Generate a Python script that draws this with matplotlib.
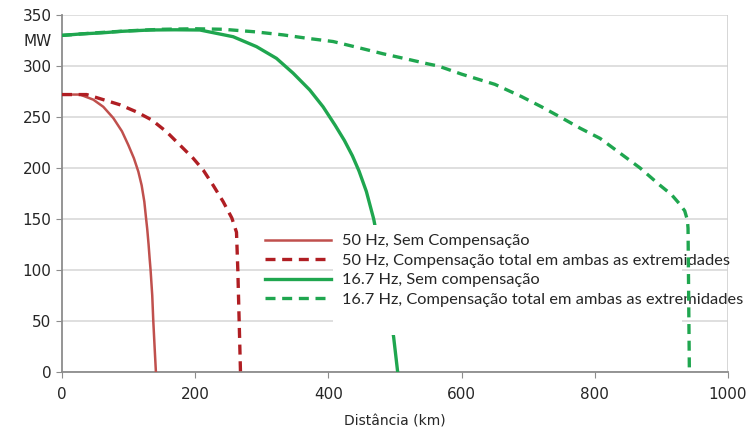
import numpy as np
import matplotlib.pyplot as plt
from matplotlib.patches import Rectangle

# Distance (km) and transmitted power (MW) for each case
km_50_sem = [0, 27, 47, 62, 77, 90, 99.6, 108, 114.6, 119.6, 123.6, 126, 128, 130,
             131.5, 133, 135.5, 137, 139, 141]
mw_50_sem = [272, 272, 267, 260, 249, 236, 222.5, 209.5, 196.5, 183, 167, 152, 140, 125,
             112, 100, 75, 51, 25, 0]

km_50_comp = [0, 37, 62, 87, 112, 135, 157, 177, 197, 212, 227, 242, 255, 262, 264, 266, 268]
mw_50_comp = [272, 272, 267, 262, 255, 247, 235.5, 222.5, 209.5, 198, 183, 167, 151, 137,
              100, 50, 0]

km_16_sem = [0, 30, 60, 90, 132, 170, 207, 257, 292, 322, 347, 372, 392, 410, 424, 436,
             446, 457, 468, 480, 490, 498, 501, 504]
mw_16_sem = [330, 331.5, 332.5, 334, 335.3, 335.5, 335.3, 328.7, 319, 307.5, 293, 276.5,
             260, 242, 227, 212, 197, 177, 150, 110, 70, 34, 17, 0]

km_16_comp = [0, 50, 100, 150, 200, 242, 290, 332, 370, 407, 445, 482, 520, 550, 565, 600,
              650, 690, 720, 748, 778, 808, 838, 868, 898, 915, 927, 935, 939, 940, 941, 942]
mw_16_comp = [330, 332.5, 334.5, 336, 336.5, 336, 333.5, 330.5, 327, 324, 318, 312, 306.5,
              302, 300, 292, 282, 270, 260, 250, 239, 229, 214.5, 200, 183, 174, 165, 158,
              149, 141, 70, 0]

labels = ['50 Hz, Sem Compensação',
          '50 Hz, Compensação total em ambas as extremidades',
          '16.7 Hz, Sem compensação',
          '16.7 Hz, Compensação total em ambas as extremidades']

red_solid = '#C0504D'
red_dash = '#B01E23'
green = '#1FA64F'

fig = plt.figure(figsize=(7.48, 4.30), dpi=100)
ax = fig.add_axes([62 / 748, 1 - 372 / 430, 666 / 748, 357 / 430])

l1, = ax.plot(km_50_sem, mw_50_sem, color=red_solid, lw=1.8, zorder=3)
l2, = ax.plot(km_50_comp, mw_50_comp, color=red_dash, lw=2.4, ls=(0, (3, 2)), zorder=3)
l3, = ax.plot(km_16_sem, mw_16_sem, color=green, lw=2.4, zorder=3)
l4, = ax.plot(km_16_comp, mw_16_comp, color=green, lw=2.4, ls=(0, (3, 2)), zorder=6)

ax.set_xlim(0, 1000)
ax.set_ylim(0, 350)
ax.set_xticks(np.arange(0, 1001, 200))
ax.set_yticks(np.arange(0, 351, 50))
ax.yaxis.grid(True, color='#D9D9D9', lw=1.2)
ax.set_axisbelow(True)

for s in ['top', 'right']:
    ax.spines[s].set_visible(False)
ax.axvline(1000, color='#D0D0D0', lw=1.2, zorder=1)
for s in ['left', 'bottom']:
    ax.spines[s].set_color('#8C8C8C')
    ax.spines[s].set_linewidth(1.3)
ax.tick_params(axis='both', colors='#8C8C8C', labelcolor='#262626', labelsize=11, length=4)
ax.tick_params(axis='x', pad=7)

ax.text(-0.016, 0.925, 'MW', transform=ax.transAxes, ha='right', va='center',
        fontsize=11, color='#262626')
ax.set_xlabel('Distância (km)', fontsize=10, color='#262626', labelpad=9)

# white block behind the legend text
ax.add_patch(Rectangle((0.407, 0.104), 0.524, 0.308, transform=ax.transAxes,
                       facecolor='white', edgecolor='none', zorder=4))

leg = ax.legend([l1, l2, l3, l4], labels, loc='upper left',
                bbox_to_anchor=(265 / 748, 1 - 234 / 430), bbox_transform=fig.transFigure,
                frameon=False, prop={'family': 'Lato', 'size': 11.8},
                handlelength=4.0, handletextpad=0.7, labelspacing=0.3,
                borderpad=0, borderaxespad=0)
leg.set_zorder(5)
for t in leg.get_texts():
    t.set_color('#262626')

fig.savefig('out.png', dpi=100)
